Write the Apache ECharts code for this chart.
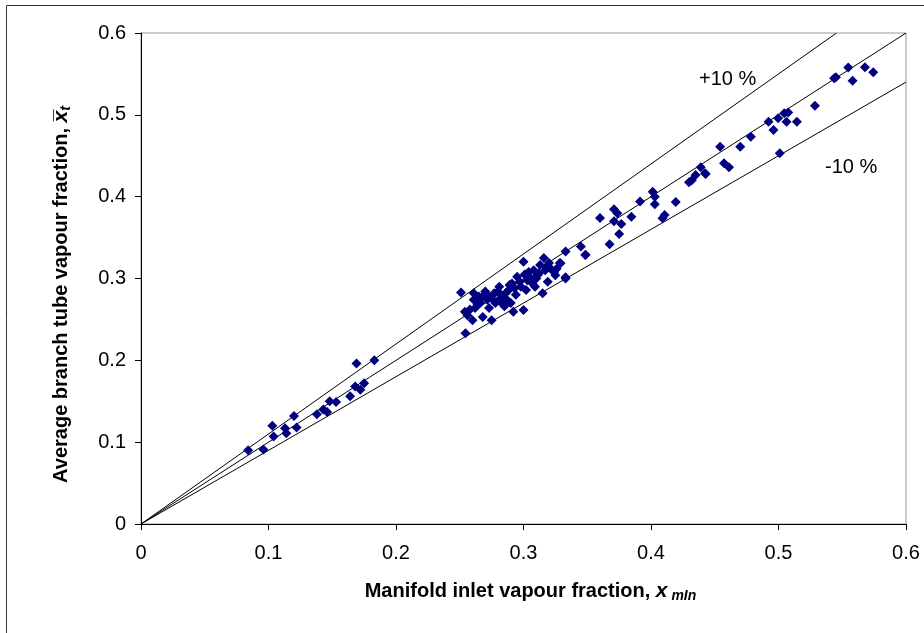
<!DOCTYPE html>
<html>
<head>
<meta charset="utf-8">
<script src="https://cdn.jsdelivr.net/npm/echarts@6/dist/echarts.min.js"></script>
<style>
    html, body { margin: 0; padding: 0; background: #fff; }
    #main { width: 924px; height: 633px; }
</style>
</head>
<body>
<div id="main"></div>
<script>
// manifold inlet vapour fraction (x) and average branch tube vapour fraction (y)
var xInlet = [
    0.084, 0.096, 0.103, 0.104, 0.113, 0.114, 0.120, 0.122, 0.138, 0.143,
    0.146, 0.148, 0.153, 0.164, 0.168, 0.172, 0.175, 0.169, 0.183,
    0.251, 0.2545, 0.254, 0.256, 0.260, 0.261, 0.261, 0.262, 0.265, 0.266,
    0.268, 0.270, 0.2715, 0.273, 0.275, 0.277, 0.278, 0.281, 0.282, 0.285,
    0.286, 0.287, 0.2885, 0.290, 0.292, 0.291, 0.295, 0.298, 0.300, 0.302,
    0.303, 0.304, 0.307, 0.308, 0.309, 0.311, 0.313, 0.315, 0.316, 0.317,
    0.319, 0.320, 0.324, 0.325, 0.3285, 0.333, 0.300, 0.333, 0.3487,
    0.258, 0.264, 0.268, 0.276, 0.280, 0.284, 0.289, 0.294, 0.297, 0.306,
    0.312, 0.318, 0.322, 0.272, 0.283, 0.293, 0.301, 0.310, 0.326,
    0.333, 0.329, 0.345, 0.3485, 0.360, 0.3675, 0.371, 0.3736, 0.371, 0.3767,
    0.375, 0.3846, 0.3914, 0.4013, 0.403, 0.403, 0.4194, 0.409, 0.4107, 0.4298,
    0.432, 0.435, 0.439, 0.4424, 0.4573, 0.4612,
    0.4429, 0.4542, 0.470, 0.4783, 0.4922, 0.4961, 0.4997, 0.501, 0.5045, 0.5076,
    0.5063, 0.5144, 0.5286, 0.5437, 0.545, 0.5547, 0.5581, 0.5678, 0.5743
];
var xTube = [
    0.090, 0.091, 0.120, 0.107, 0.117, 0.111, 0.132, 0.118, 0.134, 0.140,
    0.137, 0.150, 0.149, 0.156, 0.168, 0.164, 0.172, 0.196, 0.200,
    0.283, 0.233, 0.2595, 0.255, 0.249, 0.282, 0.274, 0.264, 0.278, 0.270,
    0.253, 0.284, 0.274, 0.264, 0.249, 0.282, 0.270, 0.290, 0.276, 0.266,
    0.282, 0.274, 0.286, 0.270, 0.2595, 0.294, 0.302, 0.290, 0.3205, 0.286,
    0.298, 0.308, 0.294, 0.310, 0.290, 0.304, 0.3165, 0.282, 0.325, 0.310,
    0.296, 0.319, 0.308, 0.304, 0.319, 0.300, 0.2615, 0.333, 0.329,
    0.262, 0.268, 0.278, 0.274, 0.284, 0.276, 0.292, 0.280, 0.296, 0.300,
    0.306, 0.314, 0.311, 0.279, 0.270, 0.288, 0.305, 0.300, 0.312,
    0.3015, 0.3186, 0.339, 0.3287, 0.374, 0.342, 0.3846, 0.3797, 0.370, 0.3666,
    0.3544, 0.3755, 0.394, 0.406, 0.400, 0.3907, 0.3935, 0.3736, 0.3776, 0.4176,
    0.420, 0.4265, 0.436, 0.4285, 0.4408, 0.436,
    0.4277, 0.461, 0.461, 0.4733, 0.4917, 0.4815, 0.4958, 0.453, 0.502, 0.503,
    0.4917, 0.4917, 0.511, 0.5447, 0.546, 0.5577, 0.5418, 0.558, 0.552
];

// reference lines: 1:1, +10 %, -10 %
var lineEqual = [[0, 0], [0.6, 0.6]];
var linePlus10 = [[0, 0], [0.5455, 0.6]];
var lineMinus10 = [[0, 0], [0.6, 0.54]];

var axisTicks = [0, 0.1, 0.2, 0.3, 0.4, 0.5, 0.6];

var chartDom = document.getElementById('main');
var myChart = echarts.init(chartDom);

var points = xInlet.map(function (x, i) { return [x, xTube[i]]; });

function refLine(data) {
    return {
        type: 'line',
        data: data,
        symbol: 'none',
        silent: true,
        lineStyle: { color: '#000', width: 1 },
        z: 1
    };
}

var font = 'Liberation Sans, Arial, sans-serif';

var nameRich = {
    b: { fontFamily: font, fontSize: 20, fontWeight: 'bold', color: '#000' },
    i: { fontFamily: font, fontSize: 21, fontWeight: 'bold', fontStyle: 'italic', color: '#000' },
    s: { fontFamily: font, fontSize: 14, fontWeight: 'bold', fontStyle: 'italic', color: '#000', padding: [10, 0, 0, 0] },
    p: { width: 14 },
    q: { width: 32 }
};

var option = {
    animation: false,
    backgroundColor: '#fff',
    grid: {
        left: 141, right: 18, top: 33, bottom: 109,
        show: true,
        borderColor: '#999',
        borderWidth: 1
    },
    xAxis: {
        type: 'value',
        min: axisTicks[0],
        max: axisTicks[axisTicks.length - 1],
        interval: 0.1,
        name: '{p|}{b|Manifold inlet vapour fraction, }{i|x}{s| mIn}',
        nameLocation: 'middle',
        nameGap: 55,
        nameTextStyle: { rich: nameRich },
        axisLine: { lineStyle: { color: '#000', width: 1 } },
        axisTick: { show: true, inside: false, length: 6, lineStyle: { color: '#000' } },
        axisLabel: {
            fontFamily: font, fontSize: 20, color: '#000', margin: 19,
            formatter: function (v) { return String(+v.toFixed(1)); }
        },
        splitLine: { show: false }
    },
    yAxis: {
        type: 'value',
        min: axisTicks[0],
        max: axisTicks[axisTicks.length - 1],
        interval: 0.1,
        name: '{b|Average branch tube vapour fraction, }{i|x\u0305}{s|t}{q|}',
        nameLocation: 'middle',
        nameGap: 68,
        nameTextStyle: { rich: nameRich },
        axisLine: { lineStyle: { color: '#000', width: 1 } },
        axisTick: { show: true, inside: false, length: 6, lineStyle: { color: '#000' } },
        axisLabel: {
            fontFamily: font, fontSize: 20, color: '#000', margin: 15,
            formatter: function (v) { return String(+v.toFixed(1)); }
        },
        splitLine: { show: false }
    },
    graphic: [
        {
            type: 'rect',
            shape: { x: 6.5, y: 5.5, width: 940, height: 650 },
            style: { fill: 'none', stroke: '#333', lineWidth: 1 },
            silent: true
        },
        {
            type: 'text', left: 699, top: 69,
            style: { text: '+10 %', fontFamily: font, fontSize: 20, fill: '#000' }
        },
        {
            type: 'text', left: 825, top: 157,
            style: { text: '-10 %', fontFamily: font, fontSize: 20, fill: '#000' }
        }
    ],
    series: [
        refLine(lineEqual),
        refLine(linePlus10),
        refLine(lineMinus10),
        {
            type: 'scatter',
            data: points,
            symbol: 'diamond',
            symbolSize: 10,
            itemStyle: { color: '#000080', opacity: 1 },
            z: 3
        }
    ]
};

option && myChart.setOption(option);
</script>
</body>
</html>
